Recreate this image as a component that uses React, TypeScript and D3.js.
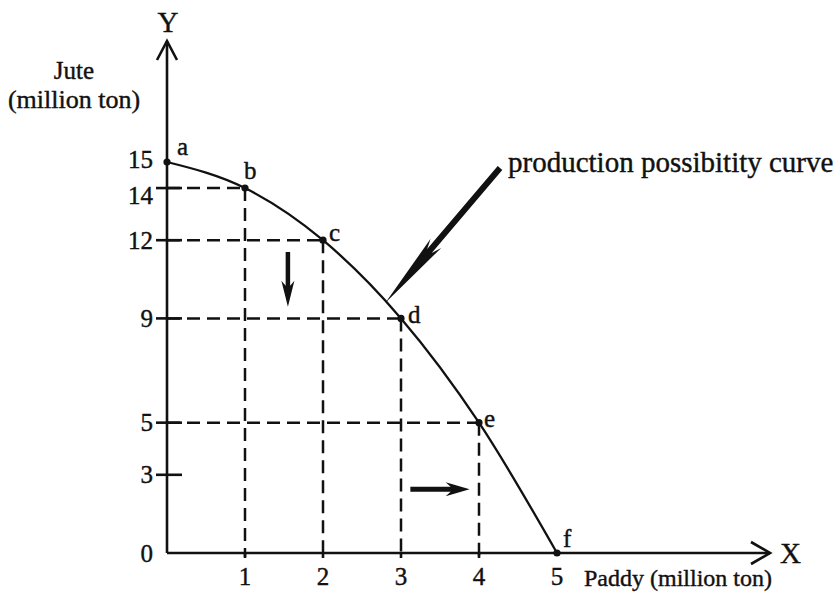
import React from 'react';
import * as d3 from 'd3';

// production possibility schedule
const pointNames = ['a', 'b', 'c', 'd', 'e', 'f'];
const paddy = [0, 1, 2, 3, 4, 5];
const jute = [15, 14, 12, 9, 5, 0];
const yTicks = [3, 5, 9, 12, 14];
const xTicks = [1, 2, 3, 4];

const FONT = '"Liberation Serif", "Times New Roman", serif';

const W = 840;
const H = 592;

const x = d3.scaleLinear().domain([0, 5]).range([167, 557]);
const y = d3.scaleLinear().domain([0, 15]).range([553, 162]);

// label offsets for the point letters (px)
const labelOffset: Record<string, [number, number]> = {
    a: [10, -7], b: [-1, -9], c: [6, 1], d: [7, 5], e: [5, 4], f: [6, -6],
};
// y tick labels that sit a little off their tick
const yLabelShift: Record<number, number> = { 14: 7, 15: -3 };

// filled arrow with a notched head, returns a path
function arrowPath(x1: number, y1: number, x2: number, y2: number, headLen: number, headW: number, shaftW: number, notch: number) {
    const dx = x2 - x1, dy = y2 - y1;
    const len = Math.hypot(dx, dy);
    const ux = dx / len, uy = dy / len;
    const nx = -uy, ny = ux;
    const bx = x2 - ux * headLen, by = y2 - uy * headLen;
    const mx = x2 - ux * (headLen - notch), my = y2 - uy * (headLen - notch);
    const p = d3.path();
    p.moveTo(x1 + nx * shaftW / 2, y1 + ny * shaftW / 2);
    p.lineTo(mx + nx * shaftW / 2, my + ny * shaftW / 2);
    p.lineTo(bx + nx * headW / 2, by + ny * headW / 2);
    p.lineTo(x2, y2);
    p.lineTo(bx - nx * headW / 2, by - ny * headW / 2);
    p.lineTo(mx - nx * shaftW / 2, my - ny * shaftW / 2);
    p.lineTo(x1 - nx * shaftW / 2, y1 - ny * shaftW / 2);
    p.closePath();
    return p.toString();
}

const App = () => {
    const pts = paddy.map((p, i) => ({ name: pointNames[i], px: p, jy: jute[i] }));
    const line = d3.line<{ px: number; jy: number }>()
        .x(d => x(d.px))
        .y(d => y(d.jy))
        .curve(d3.curveMonotoneX);

    const x0 = x(0), y0 = y(0);
    const xEnd = 770, yEnd = 41;

    // annotation arrow: tail near the text, tip on the curve between c and d
    const tipX = x(2.8), tipY = y(9.6);

    return (
        <svg width={W} height={H} style={{ position: 'absolute', left: 0, top: 0, background: '#fff' }}
            fontFamily={FONT} fill="#111">
            {/* dashed guides */}
            {pts.filter(d => d.px > 0 && d.jy > 0).map(d => (
                <g key={'g' + d.name} stroke="#111" strokeWidth={2.5} strokeDasharray="13,7" fill="none">
                    <line x1={x0} x2={x(d.px)} y1={y(d.jy)} y2={y(d.jy)} />
                    <line x1={x(d.px)} x2={x(d.px)} y1={y(d.jy)} y2={y0 + 4} />
                </g>
            ))}

            {/* axes */}
            <g stroke="#111" strokeWidth={2.6} fill="none">
                <line x1={x0} x2={x0} y1={y0} y2={yEnd} />
                <polyline points={`${x0 - 10},${yEnd + 19} ${x0},${yEnd} ${x0 + 10},${yEnd + 19}`} />
                <line x1={x0} x2={xEnd} y1={y0} y2={y0} />
                <polyline points={`${xEnd - 19},${y0 - 11} ${xEnd},${y0} ${xEnd - 19},${y0 + 11}`} />
                {yTicks.map(t => (
                    <line key={'yt' + t} x1={x0 - 11} x2={x0 + 15} y1={y(t)} y2={y(t)} />
                ))}
                {xTicks.map(t => (
                    <line key={'xt' + t} x1={x(t)} x2={x(t)} y1={y0} y2={y0 + 5} />
                ))}
            </g>

            <g stroke="#111" strokeWidth={0.4}>
                {/* tick labels */}
                <g fontSize={25} textAnchor="end">
                    {[0, ...yTicks, 15].map(t => (
                        <text key={'yl' + t} x={x0 - 14} y={y(t) + (yLabelShift[t] || 0)} dy="0.34em">{t}</text>
                    ))}
                </g>
                <g fontSize={25} textAnchor="middle">
                    {[...xTicks, 5].map(t => (
                        <text key={'xl' + t} x={x(t)} y={585}>{t}</text>
                    ))}
                </g>

                {/* axis titles */}
                <text x={x0 + 1} y={32} fontSize={29} textAnchor="middle">Y</text>
                <text x={780} y={563} fontSize={29}>X</text>
                <text x={74} y={79} fontSize={25} textAnchor="middle">Jute</text>
                <text x={74} y={108} fontSize={26} textAnchor="middle">(million ton)</text>
                <text x={584} y={586} fontSize={24}>Paddy (million ton)</text>

                {pts.map(d => (
                    <text key={'l' + d.name} x={x(d.px) + labelOffset[d.name][0]} y={y(d.jy) + labelOffset[d.name][1]}
                        fontSize={25}>{d.name}</text>
                ))}

                <text x={508} y={172} fontSize={29}>production possibitity curve</text>
            </g>

            {/* curve */}
            <path d={line(pts) || ''} fill="none" stroke="#111" strokeWidth={2.3} />
            {pts.map(d => (
                <circle key={'c' + d.name} cx={x(d.px)} cy={y(d.jy)} r={3.6} fill="#111" />
            ))}

            {/* direction arrows */}
            <path d={arrowPath(x(1.55), y(11.55), x(1.55), y(9.45), 26, 13, 4.5, 5)} fill="#111" />
            <path d={arrowPath(x(3.12), y(2.45), x(3.88), y(2.45), 24, 14, 5, 5)} fill="#111" />

            {/* annotation */}
            <path d={arrowPath(500, 168, tipX, tipY, 78, 14, 6, 10)} fill="#111" />
        </svg>
    );
};

export default App;
